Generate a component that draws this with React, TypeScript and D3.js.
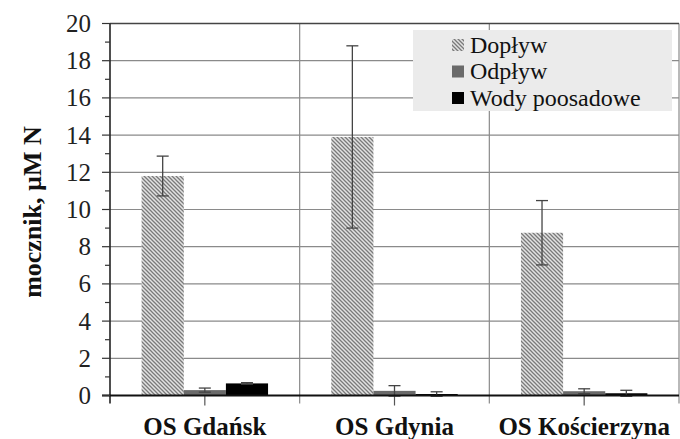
import React from 'react';
import * as d3 from 'd3';

const categories = ['OS Gdańsk', 'OS Gdynia', 'OS Kościerzyna'];
const seriesNames = ['Dopływ', 'Odpływ', 'Wody poosadowe'];
const doplyw = [11.8, 13.9, 8.75];
const doplywErr = [1.07, 4.9, 1.73];
const odplyw = [0.29, 0.25, 0.23];
const odplywErr = [0.11, 0.28, 0.13];
const wody = [0.65, 0.08, 0.12];
const wodyErr = [0.04, 0.12, 0.16];
const yTicks = [0, 2, 4, 6, 8, 10, 12, 14, 16, 18, 20];

const font = 'Liberation Serif';

const App = () => {
  const width = 680, height = 439;
  const left = 110, right = 679, top = 23.5, bottom = 395.5;

  const x = d3.scaleBand<string>().domain(categories).range([left, right]);
  const bw = x.bandwidth();
  const w = bw / 4.5; // Excel gap width 150%
  const inner = d3.scaleBand<string>().domain(seriesNames).range([0.75 * w, bw - 0.75 * w]);
  const y = d3.scaleLinear().domain([0, 20]).range([bottom, top]);

  const values = [doplyw, odplyw, wody];
  const errors = [doplywErr, odplywErr, wodyErr];
  const fills = ['url(#hatch)', '#6a6a6a', '#000'];
  const minor = d3.range(1, 20, 2);

  return (
    <svg width={width} height={height} fontFamily={font} style={{ position: 'absolute', left: 0, top: 0, background: '#fff', fontFamily: font }}>
      <defs>
        <pattern id="hatch" width="4" height="4" patternUnits="userSpaceOnUse">
          <rect width="4" height="4" fill="#e2e2e2" />
          <path d="M-1,-1 L5,5 M-1,3 L1,5 M3,-1 L5,1" stroke="#7a7a7a" strokeWidth="1.3" />
        </pattern>
      </defs>
      {yTicks.filter(t => t > 0 && t < 20).map(t => (
        <line key={'g' + t} x1={left} x2={right} y1={y(t)} y2={y(t)} stroke="#8a8a8a" strokeWidth={1.2} />
      ))}
      {categories.slice(1).map(c => (
        <line key={'v' + c} x1={x(c)} x2={x(c)} y1={top} y2={bottom + 8} stroke="#8a8a8a" strokeWidth={1.2} />
      ))}
      <line x1={right} x2={right} y1={top} y2={bottom + 8} stroke="#8a8a8a" strokeWidth={1.2} />
      {categories.map(c => (
        <line key={'t' + c} x1={(x(c) as number) + bw / 2} x2={(x(c) as number) + bw / 2} y1={bottom} y2={bottom + 10} stroke="#555" strokeWidth={1.2} />
      ))}
      {seriesNames.map((s, si) =>
        categories.map((c, ci) => {
          const bx = (x(c) as number) + (inner(s) as number);
          const v = values[si][ci];
          return (
            <rect key={s + c} x={bx} y={y(v)} width={inner.bandwidth()} height={bottom - y(v)} fill={fills[si]} />
          );
        })
      )}
      {seriesNames.map((s, si) =>
        categories.map((c, ci) => {
          const cx = (x(c) as number) + (inner(s) as number) + inner.bandwidth() / 2;
          const v = values[si][ci], e = errors[si][ci];
          return (
            <g key={'e' + s + c} stroke="#444" strokeWidth={1.3}>
              <line x1={cx} x2={cx} y1={y(v + e)} y2={y(v - e)} />
              <line x1={cx - 6} x2={cx + 6} y1={y(v + e)} y2={y(v + e)} />
              <line x1={cx - 6} x2={cx + 6} y1={y(v - e)} y2={y(v - e)} />
            </g>
          );
        })
      )}
      <line x1={left} x2={right} y1={top} y2={top} stroke="#444" strokeWidth={1.6} />
      <line x1={left} x2={left} y1={top} y2={bottom + 8} stroke="#222" strokeWidth={1.6} />
      <line x1={left - 8} x2={right} y1={bottom} y2={bottom} stroke="#111" strokeWidth={2} />
      {yTicks.map(t => (
        <g key={'yt' + t}>
          <line x1={left - 8} x2={left} y1={y(t)} y2={y(t)} stroke="#333" strokeWidth={1.2} />
          <text x={91} y={y(t)} dy="0.34em" textAnchor="end" fontFamily={font} fontSize={25} fill="#222">{t}</text>
        </g>
      ))}
      {minor.map(t => (
        <line key={'m' + t} x1={left - 5} x2={left} y1={y(t)} y2={y(t)} stroke="#333" strokeWidth={1.2} />
      ))}
      {categories.map(c => (
        <text key={'xl' + c} x={(x(c) as number) + bw / 2} y={435} textAnchor="middle" fontFamily={font} fontWeight="bold" fontSize={25} fill="#111">{c}</text>
      ))}
      <text transform="translate(41,212) rotate(-90)" textAnchor="middle" fontFamily={font} fontWeight="bold" fontSize={26} fill="#111">mocznik, µM N</text>
      <rect x={413} y={30} width={259} height={81} fill="#ebebeb" />
      {seriesNames.map((s, i) => (
        <g key={'lg' + s} transform={`translate(452,${45 + i * 26.5})`}>
          <rect x={0} y={-6} width={12} height={12} fill={fills[i]} />
          <text x={18} y={0} dy="0.33em" fontFamily={font} fontSize={24} fill="#111">{s}</text>
        </g>
      ))}
    </svg>
  );
};

export default App;
